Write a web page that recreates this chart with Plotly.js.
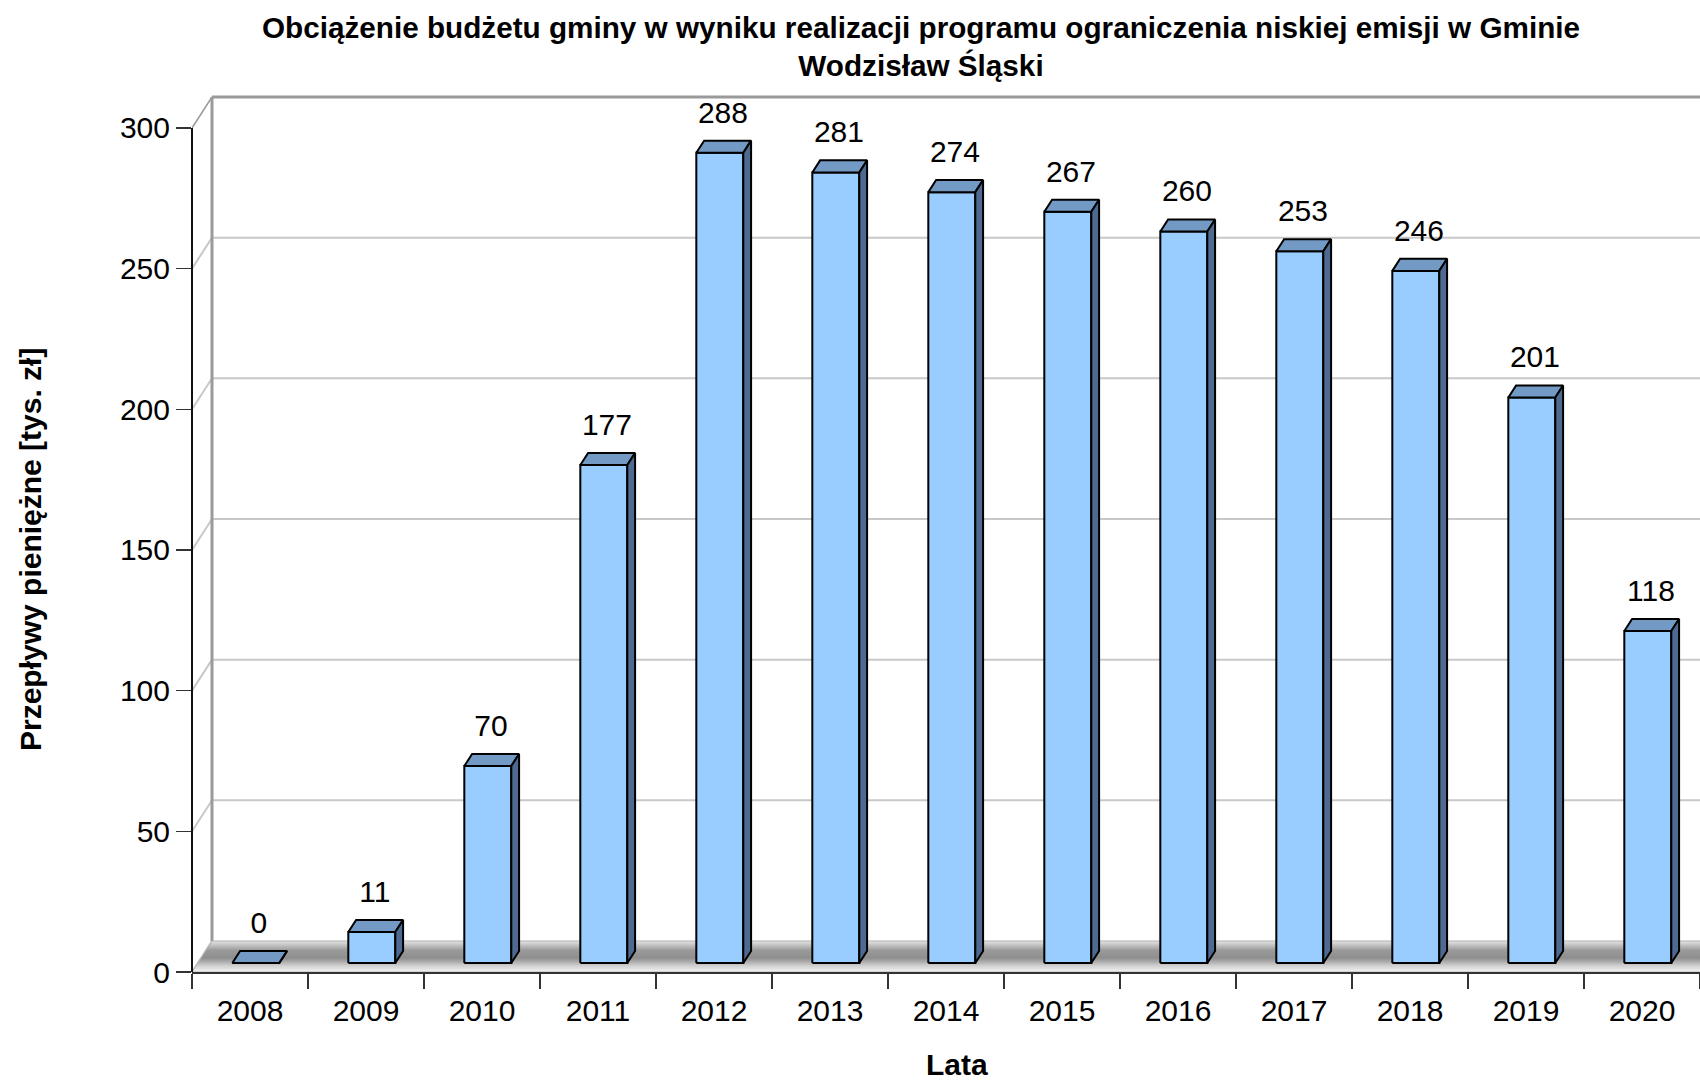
<!DOCTYPE html>
<html>
<head>
<meta charset="utf-8">
<script src="https://cdn.plot.ly/plotly-3.0.1.min.js"></script>
<style>html,body{margin:0;padding:0;background:#fff;overflow:hidden}</style>
</head>
<body>
<div id="chart" style="width:1700px;height:1082px"></div>
<script>
// ---- data ----
const years = ['2008','2009','2010','2011','2012','2013','2014','2015','2016','2017','2018','2019','2020'];
const values = [0, 11, 70, 177, 288, 281, 274, 267, 260, 253, 246, 201, 118];
const yTicks = [0, 50, 100, 150, 200, 250, 300];

const titleText = 'Obciążenie budżetu gminy w wyniku realizacji programu ograniczenia niskiej emisji w Gminie<br>Wodzisław Śląski';
const xTitle = 'Lata';
const yTitle = 'Przepływy pieniężne [tys. zł]';

// ---- 3D geometry in axis units ----
const DX = 0.1724, DY = 11.02;     // full depth of the wall/floor
const D1 = 0.29, D2 = 0.68;        // bar front / back depth fraction
const HALF = 0.2025;               // half bar width
const FONT = 'Liberation Sans, Arial, sans-serif';

const idx = years.map((_, i) => i);
const bx0 = i => i - HALF + D1 * DX;
const bx1 = i => i + HALF + D1 * DX;
const barBase = D1 * DY;
const ddx = (D2 - D1) * DX, ddy = (D2 - D1) * DY;

const frontFace = {x: [], y: []}, topFace = {x: [], y: []}, sideFace = {x: [], y: []};
idx.forEach(i => {
  const v = values[i], x0 = bx0(i), x1 = bx1(i), t = barBase + v;
  frontFace.x.push(x0, x1, x1, x0, x0, null);
  frontFace.y.push(barBase, barBase, t, t, barBase, null);
  topFace.x.push(x0, x1, x1 + ddx, x0 + ddx, x0, null);
  topFace.y.push(t, t, t + ddy, t + ddy, t, null);
  sideFace.x.push(x1, x1 + ddx, x1 + ddx, x1, x1, null);
  sideFace.y.push(barBase, barBase + ddy, t + ddy, t, barBase, null);
});

const outline = {color: '#000', width: 2};
const traces = [
  { // floor
    type: 'scatter', mode: 'lines', hoverinfo: 'skip',
    x: [-0.5, 13, 13 + DX, -0.5 + DX, -0.5],
    y: [0, 0, DY, DY, 0],
    fill: 'toself',
    fillgradient: {type: 'vertical', colorscale: [[0, '#f4f4f4'], [0.2, '#d0d0d0'], [0.45, '#8e8e8e'], [0.7, '#9a9a9a'], [0.88, '#c6c6c6'], [1, '#e4e4e4']]},
    line: {color: '#b0b0b0', width: 1}
  },
  {type: 'scatter', mode: 'lines', x: frontFace.x, y: frontFace.y, fill: 'toself', fillcolor: '#99CCFF', line: outline, hoverinfo: 'skip'},
  {type: 'scatter', mode: 'lines', x: topFace.x, y: topFace.y, fill: 'toself', fillcolor: '#739AC4', line: outline, hoverinfo: 'skip'},
  {type: 'scatter', mode: 'lines', x: sideFace.x, y: sideFace.y, fill: 'toself', fillcolor: '#4E6A90', line: outline, hoverinfo: 'skip'},
  {
    type: 'scatter', mode: 'text', cliponaxis: false, hoverinfo: 'skip',
    x: idx.map(i => i + 0.077), y: values.map(v => v + 16.6),
    text: values.map(String), textposition: 'middle center',
    textfont: {size: 30, family: FONT, color: '#000'}
  }
];

// wall lines
const shapes = [];
yTicks.forEach(v => {
  const edge = v === 300;
  const c = edge ? '#9a9a9a' : '#c8c8c8';
  if (v > 0) {
    shapes.push({type: 'line', layer: 'below', xref: 'x', yref: 'y', x0: -0.5 + DX, x1: 13, y0: v + DY, y1: v + DY,
                 line: {color: c, width: edge ? 3 : 2}});
  }
  shapes.push({type: 'line', layer: 'below', xref: 'x', yref: 'y', x0: -0.5, x1: -0.5 + DX, y0: v, y1: v + DY,
               line: {color: c, width: edge ? 1.5 : 2}});
});
shapes.push({type: 'line', layer: 'below', xref: 'x', yref: 'y', x0: -0.5 + DX, x1: -0.5 + DX, y0: DY, y1: 300 + DY,
             line: {color: '#9a9a9a', width: 3}});
// front value axis line
shapes.push({type: 'line', layer: 'above', xref: 'paper', yref: 'y', x0: 0, x1: 0, y0: 0, y1: 300,
             line: {color: '#111', width: 2}});

const boundaries = years.map((_, i) => i - 0.5).concat([years.length - 0.5]);

const titleFont = {size: 30, family: FONT, weight: 700, color: '#000'};
const layout = {
  width: 1700, height: 1082,
  margin: {l: 192, r: 0, t: 90, b: 110, autoexpand: false},
  paper_bgcolor: '#fff', plot_bgcolor: 'rgba(0,0,0,0)',
  showlegend: false,
  font: {family: FONT, color: '#000'},
  title: {
    text: titleText, xref: 'container', yref: 'container',
    x: 921 / 1700, xanchor: 'center', y: 1 - 37.5 / 1082, yanchor: 'middle',
    font: {size: 29.7, family: FONT, weight: 700, color: '#000'}
  },
  xaxis: {
    range: [-0.5, 12.5], tickmode: 'array', tickvals: idx, ticktext: years,
    ticks: 'outside', ticklen: 11, tickcolor: 'rgba(0,0,0,0)',
    minor: {tickmode: 'array', tickvals: boundaries, ticks: 'outside', ticklen: 15, tickcolor: '#333', tickwidth: 1.5, showgrid: false},
    showgrid: false, zeroline: false, showline: true, linecolor: '#333', linewidth: 2,
    tickfont: {size: 30, family: FONT, color: '#000'},
    fixedrange: true
  },
  yaxis: {
    range: [0, 313.5], tickmode: 'array', tickvals: yTicks,
    ticks: 'outside', ticklen: 15, tickcolor: '#333', tickwidth: 1.5,
    showgrid: false, zeroline: false, showline: false,
    tickfont: {size: 30, family: FONT, color: '#000'},
    fixedrange: true
  },
  annotations: [
    {text: xTitle, xref: 'paper', yref: 'paper', x: (957 - 192) / 1508, y: (972 - 1064) / 882,
     xanchor: 'center', yanchor: 'middle', showarrow: false, borderpad: 0, font: titleFont},
    {text: yTitle, xref: 'paper', yref: 'paper', x: (30 - 192) / 1508, y: (972 - 550) / 882,
     xanchor: 'center', yanchor: 'middle', textangle: -90, showarrow: false, font: titleFont}
  ],
  shapes: shapes
};

Plotly.newPlot('chart', traces, layout, {displayModeBar: false, staticPlot: true});
</script>
</body>
</html>
